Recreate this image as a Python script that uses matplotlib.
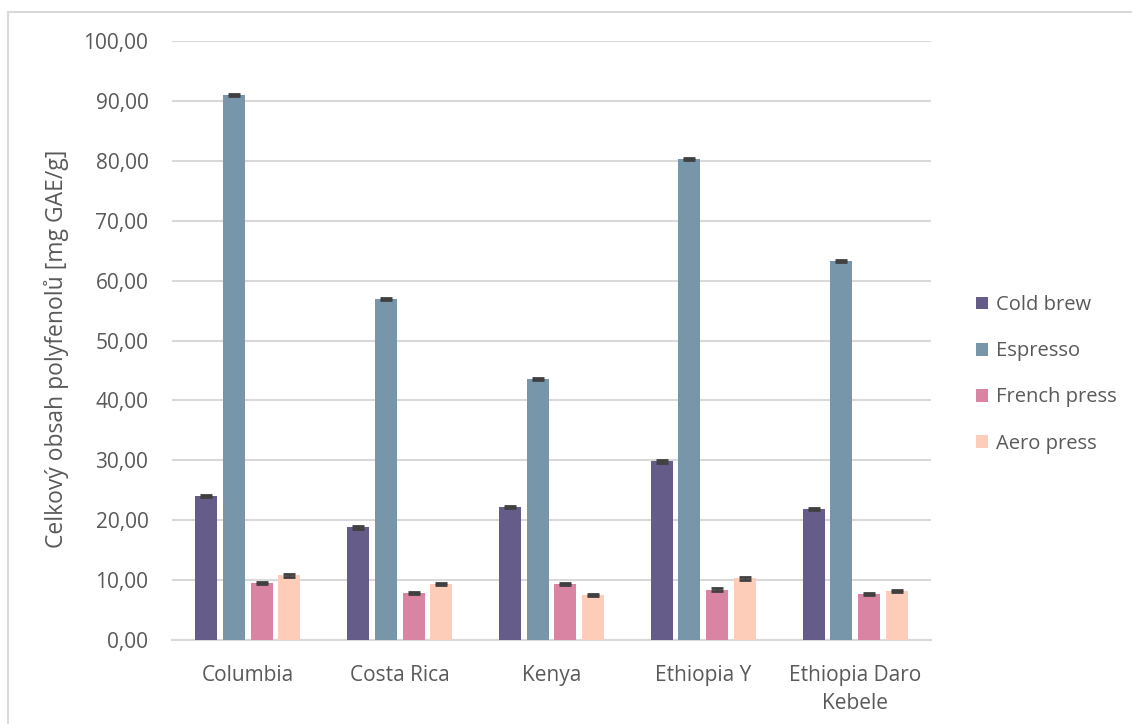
import matplotlib
matplotlib.use("Agg")
import matplotlib.pyplot as plt
import numpy as np
from matplotlib.patches import Rectangle

# Data: total polyphenol content [mg GAE/g]
categories = ["Columbia", "Costa Rica", "Kenya", "Ethiopia Y", "Ethiopia Daro\nKebele"]
methods = ["Cold brew", "Espresso", "French press", "Aero press"]
cold_brew = [24.0, 18.8, 22.2, 29.8, 21.9]
espresso = [91.0, 56.9, 43.6, 80.3, 63.3]
french_press = [9.5, 7.8, 9.3, 8.4, 7.7]
aero_press = [10.8, 9.3, 7.5, 10.3, 8.2]
errors = [0.2, 0.2, 0.2, 0.2]
y_ticks = [0, 10, 20, 30, 40, 50, 60, 70, 80, 90, 100]

series = [cold_brew, espresso, french_press, aero_press]
colors = ["#655C89", "#7896AA", "#D884A2", "#FDCDB9"]

plt.rcParams["font.family"] = ["Open Sans", "DejaVu Sans"]
text_color = "#595959"

fig = plt.figure(figsize=(11.32, 7.24), dpi=100)
ax = fig.add_axes([172 / 1132, 1 - 640 / 724, (931 - 172) / 1132, (640 - 41) / 724])

x = np.arange(len(categories))
width = 0.145
step = 0.182
offsets = (np.arange(len(series)) - 1.5) * step

for vals, off, col, name, err in zip(series, offsets, colors, methods, errors):
    ax.bar(x + off, vals, width=width, color=col, label=name, zorder=3)
    ax.errorbar(x + off, vals, yerr=err, fmt="none", ecolor="#404040",
                elinewidth=1, capsize=4.3, capthick=2.0, zorder=4)

ax.set_xlim(-0.5, len(categories) - 0.5)
ax.set_ylim(0, 100)
ax.set_yticks(y_ticks)
ax.set_yticklabels([f"{v:.2f}".replace(".", ",") for v in y_ticks])
ax.set_xticks(x)
ax.set_xticklabels(categories, linespacing=1.45)
ax.tick_params(axis="both", length=0, colors=text_color, labelsize=15)
ax.tick_params(axis="y", pad=17)
ax.tick_params(axis="x", pad=18)

ax.grid(axis="y", color="#D9D9D9", linewidth=1.5, zorder=0)
for side in ["top", "right", "left"]:
    ax.spines[side].set_visible(False)
ax.spines["bottom"].set_color("#D9D9D9")
ax.spines["bottom"].set_linewidth(1.5)

# Vertical axis title
fig.text(57 / 1132, 1 - 349 / 724, "Celkový obsah polyfenolů [mg GAE/g]",
         rotation=90, ha="center", va="center", color=text_color, fontsize=16.5)

leg = fig.legend(loc="upper left", bbox_to_anchor=(958 / 1132, 1 - 277 / 724),
                 frameon=False, fontsize=14.5, labelspacing=1.3,
                 handlelength=0.6, handleheight=0.6, handletextpad=0.4)
for t in leg.get_texts():
    t.set_color(text_color)

# Chart area border
fig.patches.append(Rectangle((8 / 1132, -0.1), 1.2, 1 - 12 / 724 + 0.1,
                             transform=fig.transFigure, fill=False,
                             edgecolor="#D9D9D9", linewidth=1.5))

fig.savefig("out.png", dpi=100)
